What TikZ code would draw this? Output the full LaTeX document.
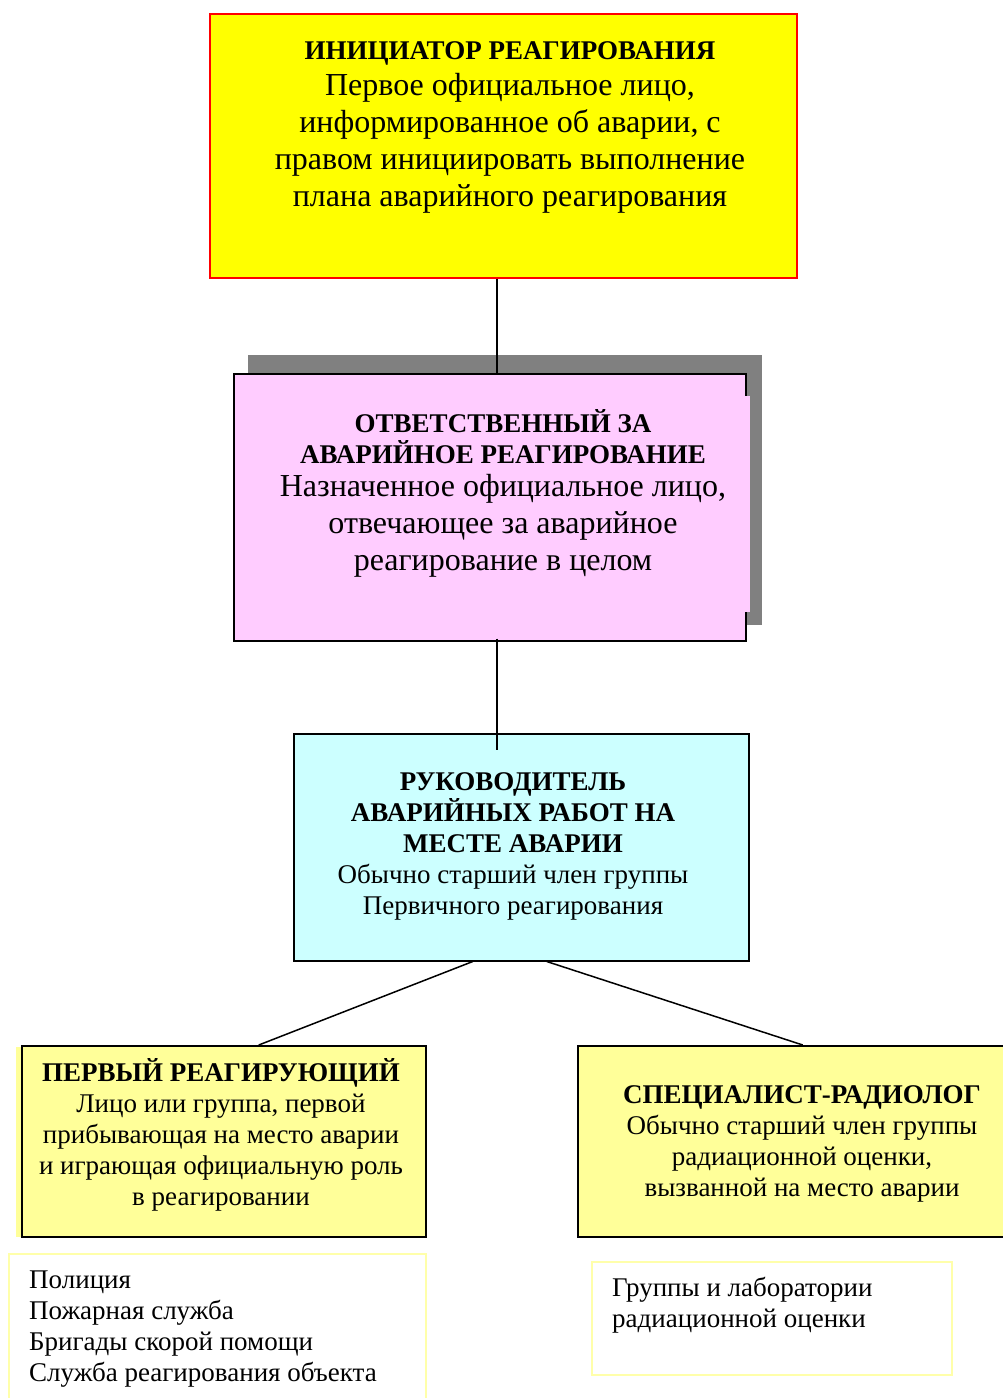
\documentclass[tikz,border=0pt]{standalone}
\usepackage{fontspec}
\setmainfont{Liberation Serif}
\definecolor{topfill}{RGB}{255,255,0}
\definecolor{pinkfill}{RGB}{255,204,255}
\definecolor{shadowgray}{RGB}{128,128,128}
\definecolor{cyanfill}{RGB}{204,255,255}
\definecolor{paleyellow}{RGB}{255,255,153}
\definecolor{listedge}{RGB}{255,255,170}
\begin{document}
\begin{tikzpicture}[x=1pt,y=-1pt,
  box/.style={draw=black, line width=1.5pt, inner sep=0pt, anchor=north west},
  link/.style={draw=black, line width=1.5pt},
  big/.style={font=\fontsize{32}{37}\selectfont},
  small/.style={font=\fontsize{27}{31}\selectfont},
  txt/.style={align=center, inner sep=0pt},
  listtxt/.style={align=left, inner sep=0pt, anchor=west, small}]
\useasboundingbox (0,0) rectangle (1002,1398);
\newcommand{\hd}[1]{{\fontsize{27}{31}\selectfont\bfseries #1}}

% top box
\node[box, draw=red, line width=1.5pt, fill=topfill,
      minimum width=587pt, minimum height=264pt] (top) at (209,13) {};
\node[txt, big] (toptxt) at (510,127.5)
  {\hd{ИНИЦИАТОР РЕАГИРОВАНИЯ}\\[-1pt]
   Первое официальное лицо,\\
   информированное об аварии, с\\
   правом инициировать выполнение\\
   плана аварийного реагирования};

% second level with a shadow
\fill[shadowgray] (248,355) rectangle (762,625);
\node[box, fill=pinkfill,
      minimum width=512pt, minimum height=267pt] (pink) at (233,373) {};
\fill[pinkfill] (744,396) rectangle (750,612);
\node[txt, big] (pinktxt) at (503,493)
  {\hd{ОТВЕТСТВЕННЫЙ ЗА}\\[-6pt]
   \hd{АВАРИЙНОЕ РЕАГИРОВАНИЕ}\\[-4pt]
   Назначенное официальное лицо,\\
   отвечающее за аварийное\\
   реагирование в целом};

% third level
\node[box, fill=cyanfill,
      minimum width=455pt, minimum height=227pt] (cyan) at (293,733) {};
\node[txt, small] (cyantxt) at (513,846)
  {\hd{РУКОВОДИТЕЛЬ}\\
   \hd{АВАРИЙНЫХ РАБОТ НА}\\
   \hd{МЕСТЕ АВАРИИ}\\
   Обычно старший член группы\\
   Первичного реагирования};

% bottom level
\fill[paleyellow] (16,1047) rectangle (425,1237);
\node[box, fill=paleyellow,
      minimum width=404pt, minimum height=191pt] (left) at (21,1045) {};
\node[txt, small] (lefttxt) at (221,1134.5)
  {\hd{ПЕРВЫЙ РЕАГИРУЮЩИЙ}\\
   Лицо или группа, первой\\
   прибывающая на место аварии\\
   и играющая официальную роль\\
   в реагировании};

\node[box, fill=paleyellow,
      minimum width=430pt, minimum height=191pt] (right) at (577,1045) {};
\node[txt, small] (righttxt) at (802,1143.5)
  {\hd{СПЕЦИАЛИСТ-РАДИОЛОГ}\\
   Обычно старший член группы\\
   радиационной оценки,\\
   вызванной на место аварии};

% member lists
\node[box, draw=listedge, line width=1.5pt,
      minimum width=417pt, minimum height=160pt] (leftlist) at (8,1253) {};
\node[listtxt] (leftlisttxt) at (29,1329)
  {Полиция\\Пожарная служба\\Бригады скорой помощи\\Служба реагирования объекта};

\node[box, draw=listedge, line width=1.5pt,
      minimum width=360pt, minimum height=113pt] (rightlist) at (591,1261) {};
\node[listtxt] (rightlisttxt) at (612,1305)
  {Группы и лаборатории\\радиационной оценки};

% connectors
\coordinate (axis) at (497,0);
\coordinate (cyanin) at (497,750);
\draw[link] (axis |- top.south) -- (axis |- pink.north);
\draw[link] ([yshift=3pt]axis |- pink.south) -- (cyanin);
\draw[link] ([xshift=-48.5pt]cyan.south) -- ([xshift=35pt]left.north);
\draw[link] ([xshift=25.5pt]cyan.south) -- ([xshift=10pt]right.north);
\end{tikzpicture}
\end{document}
